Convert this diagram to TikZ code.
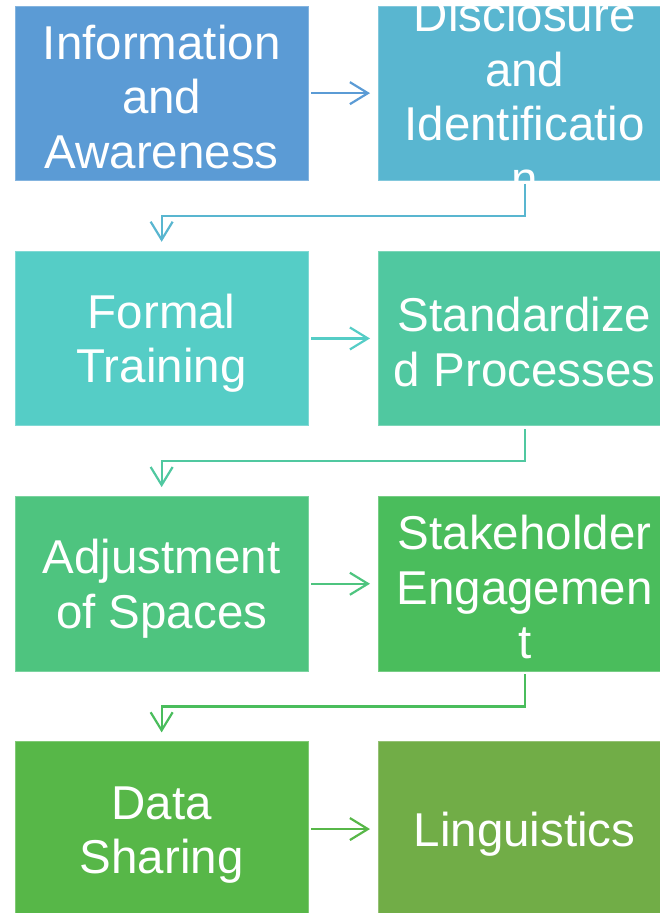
\documentclass[tikz,border=0pt]{standalone}
\usepackage{fontspec}
\setmainfont{Liberation Sans}
\usetikzlibrary{arrows.meta}
\definecolor{cAL}{HTML}{5B9BD5}
\definecolor{cAR}{HTML}{59B6D0}
\definecolor{cBL}{HTML}{55CDC6}
\definecolor{cBR}{HTML}{50C8A0}
\definecolor{cCL}{HTML}{4EC47F}
\definecolor{cCR}{HTML}{4ABD5C}
\definecolor{cDL}{HTML}{57B748}
\definecolor{cDR}{HTML}{71AD47}
\newcommand\lnstrut{\rule[-0.07em]{0pt}{0.9em}}
\begin{document}
\begin{tikzpicture}[x=1pt,y=-1pt,
  box/.style={fill=#1, draw=#1!75!white, line width=0.8pt,
    minimum width=292.5pt, minimum height=174.5pt, inner sep=0pt,
    anchor=north west},
  lbl/.style={inner sep=0pt, text=white, align=center, yshift=-2.5pt,
    font=\fontsize{47.5}{54.5}\selectfont},
  conn/.style={draw=#1, line width=2.2pt,
    -{Straight Barb[length=18pt,width=22pt]}}]
\useasboundingbox (0,0) rectangle (660,913);
\clip (0,0) rectangle (660,913);
% boxes
\node[box=cAL] (a1) at (15,5.5) {};
\node[box=cAR] (b1) at (378,5.5) {};
\node[box=cBL] (a2) at (15,250.8) {};
\node[box=cBR] (b2) at (378,250.8) {};
\node[box=cCL] (a3) at (15,496.1) {};
\node[box=cCR] (b3) at (378,496.1) {};
\node[box=cDL] (a4) at (15,741.4) {};
\node[box=cDR] (b4) at (378,741.4) {};
% labels
\node[lbl] (ta1) at (a1.center) {\lnstrut Information\\\lnstrut and\\\lnstrut Awareness};
\node[lbl] (tb1) at (b1.center) {\lnstrut Disclosure\\\lnstrut and\\\lnstrut Identificatio\\\lnstrut n};
\node[lbl] (ta2) at (a2.center) {\lnstrut Formal\\\lnstrut Training};
\node[lbl] (tb2) at (b2.center) {\lnstrut Standardize\\\lnstrut d Processes};
\node[lbl] (ta3) at (a3.center) {\lnstrut Adjustment\\\lnstrut of Spaces};
\node[lbl] (tb3) at (b3.center) {\lnstrut Stakeholder\\\lnstrut Engagemen\\\lnstrut t};
\node[lbl] (ta4) at (a4.center) {\lnstrut Data\\\lnstrut Sharing};
\node[lbl] (tb4) at (b4.center) {\lnstrut Linguistics};
% horizontal arrows
\draw[conn=cAL] ([xshift=3pt]a1.east) -- ([xshift=-8pt]b1.west);
\draw[conn=cBL] ([xshift=3pt]a2.east) -- ([xshift=-8pt]b2.west);
\draw[conn=cCL] ([xshift=3pt]a3.east) -- ([xshift=-8pt]b3.west);
\draw[conn=cDL] ([xshift=3pt]a4.east) -- ([xshift=-8pt]b4.west);
% elbow connectors
\draw[conn=cAR] ([yshift=-3pt]b1.south) -- ++(0,32) -| ([yshift=9pt]a2.north);
\draw[conn=cBR] ([yshift=-3pt]b2.south) -- ++(0,32) -| ([yshift=9pt]a3.north);
\draw[conn=cCR] ([yshift=-3pt]b3.south) -- ++(0,32) -| ([yshift=9pt]a4.north);
\end{tikzpicture}
\end{document}
